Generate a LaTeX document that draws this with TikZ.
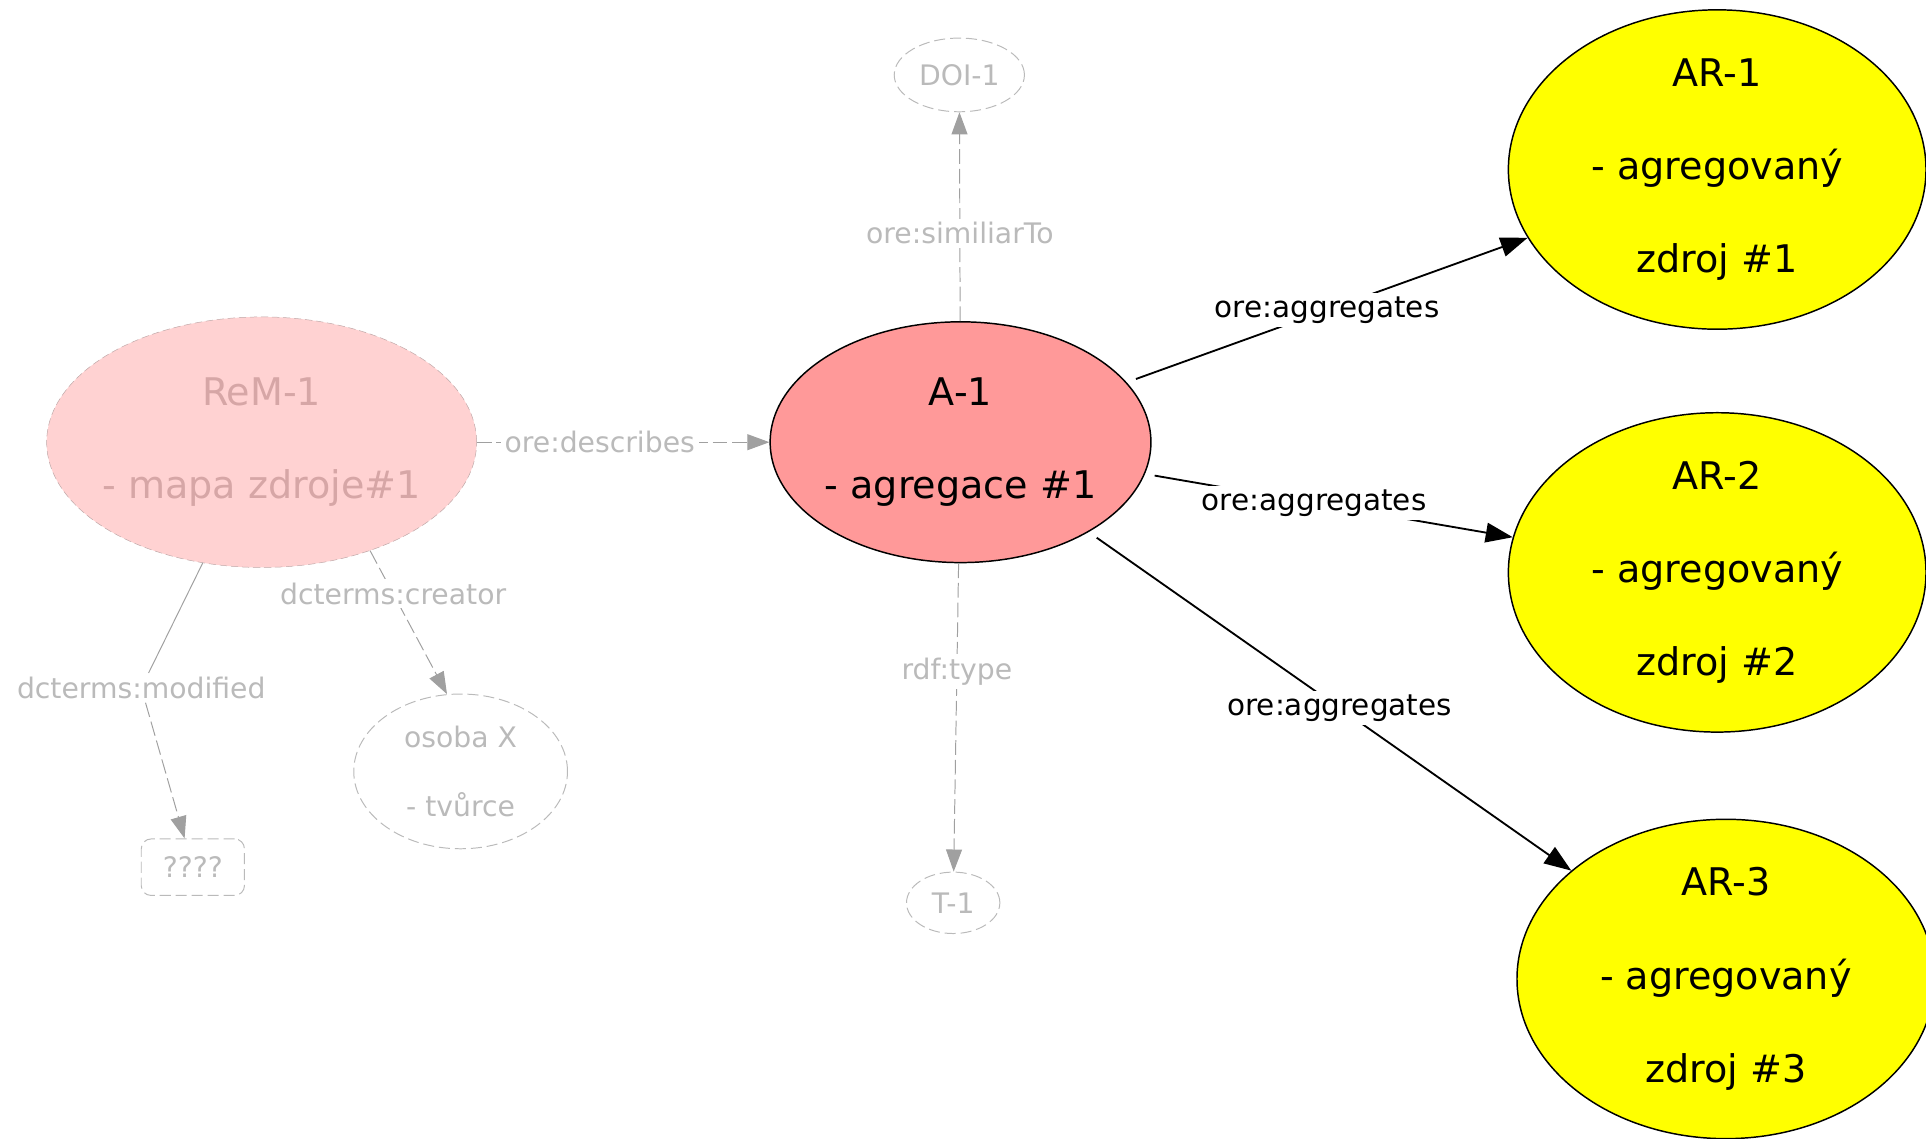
\documentclass[tikz,border=0pt]{standalone}
\usepackage{fontspec}
\setmainfont{DejaVu Sans}
\usetikzlibrary{shapes.geometric,arrows.meta}

\definecolor{agrred}{HTML}{FF9999}
\definecolor{rempink}{HTML}{FFD2D2}
\definecolor{remtext}{HTML}{D6A6A6}
\definecolor{remline}{HTML}{BFA8A8}
\definecolor{faint}{HTML}{BABABA}
\definecolor{faintline}{HTML}{A0A0A0}
\definecolor{pureyellow}{RGB}{255,255,0}

\begin{document}
\begin{tikzpicture}[x=1pt,y=-1pt,
	big/.style={ellipse,draw,inner sep=0pt,align=center,font=\fontsize{31}{76}\selectfont},
	small/.style={draw=faint,line width=0.8pt,dash pattern=on 9pt off 4pt,text=faint,inner sep=0pt,align=center,font=\fontsize{23}{56}\selectfont},
	lbl/.style={fill=white,inner sep=3pt,font=\fontsize{24}{28}\selectfont},
	flbl/.style={lbl,text=faint,font=\fontsize{23}{27}\selectfont},
	agg/.style={draw,line width=1.5pt,shorten <=8pt,-{Triangle[length=22pt,width=16pt]}},
	faintarrow/.style={draw=faintline,line width=0.8pt,dash pattern=on 12pt off 4pt,-{Triangle[length=18pt,width=13pt,fill=faintline]}}]

	\useasboundingbox (0,0) rectangle (1568,927);

	\node[big,fill=rempink,draw=remline,dash pattern=on 6pt off 3pt,text=remtext,inner xsep=-10pt,minimum width=350pt,minimum height=204pt] (rem) at (213,360) {ReM-1\\- mapa zdroje\#1};
	\node[big,fill=agrred,line width=1.2pt,inner xsep=-2pt,minimum width=310pt,minimum height=196pt] (agr) at (782,360) {A-1\\- agregace \#1};
	\node[big,fill=pureyellow,line width=1.2pt,minimum width=340pt,minimum height=260pt] (ar1) at (1398,138) {AR-1\\- agregovaný\\zdroj \#1};
	\node[big,fill=pureyellow,line width=1.2pt,minimum width=340pt,minimum height=260pt] (ar2) at (1398,466) {AR-2\\- agregovaný\\zdroj \#2};
	\node[big,fill=pureyellow,line width=1.2pt,minimum width=340pt,minimum height=260pt] (ar3) at (1405,797) {AR-3\\- agregovaný\\zdroj \#3};

	\node[small,ellipse,minimum width=106pt,minimum height=60pt] (doi) at (781,61) {DOI-1};
	\node[small,ellipse,minimum width=76pt,minimum height=50pt] (typ) at (776,735) {T-1};
	\node[small,ellipse,minimum width=174pt,minimum height=126pt] (osoba) at (375,628) {osoba X\\- tvůrce};
	\node[small,rounded corners=8pt,minimum width=84pt,minimum height=46pt] (mod) at (157,706) {????};

	\draw[faintarrow] (rem) -- node[flbl,pos=0.42] {ore:describes} (agr);
	\draw[faintarrow] (agr) -- node[flbl,pos=0.42] {ore:similiarTo} (doi);
	\draw[faintarrow] (agr) -- node[flbl,pos=0.35] {rdf:type} (typ);
	\draw[faintarrow] (rem.-45) -- node[flbl,pos=0.3] {dcterms:creator} (osoba.100);
	\node[flbl] (lmod) at (115,560) {dcterms:modified};
	\draw[faintline,line width=0.8pt] (rem.-116) -- (lmod);
	\draw[faintarrow] (lmod) -- (mod);

	\draw[agg] (agr) -- node[lbl,pos=0.5] {ore:aggregates} (ar1);
	\draw[agg] (agr) -- node[lbl,pos=0.46] {ore:aggregates} (ar2);
	\draw[agg] (agr) -- node[lbl,pos=0.52] {ore:aggregates} (ar3);

\end{tikzpicture}
\end{document}
